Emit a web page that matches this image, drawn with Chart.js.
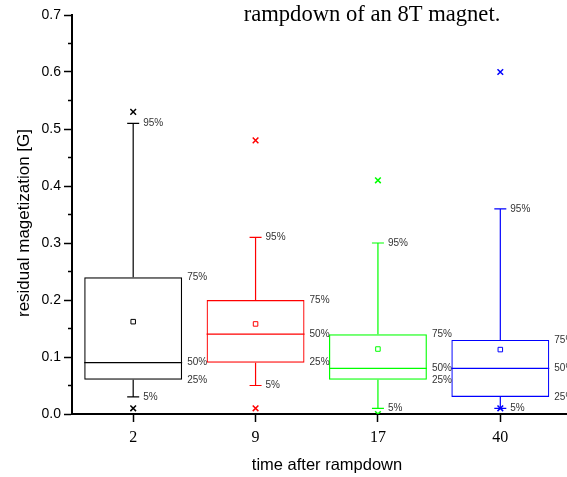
<!DOCTYPE html>
<html>
<head>
<meta charset="utf-8">
<script src="https://cdn.jsdelivr.net/npm/chart.js@4.4.1/dist/chart.umd.min.js"></script>
<style>
  html, body { margin: 0; padding: 0; background: #fff; }
  #wrap { width: 567px; height: 477px; }
</style>
</head>
<body>
<div id="wrap"><canvas id="boxChart" width="567" height="477"></canvas></div>
<script>
// values (residual magnetization in G)
const categories = ["2", "9", "17", "40"];
const p5 = [0.03, 0.05, 0.01, 0.01];
const q1 = [0.06, 0.09, 0.06, 0.03];
const median = [0.09, 0.14, 0.08, 0.08];
const q3 = [0.24, 0.20, 0.14, 0.13];
const p95 = [0.51, 0.31, 0.30, 0.36];
const mean = [0.162, 0.158, 0.114, 0.113];
const maxVals = [0.53, 0.48, 0.41, 0.60];
const minVals = [0.01, 0.01, 0.0, 0.01];
const colors = ["#000000", "#ff0000", "#00ff00", "#0000ff"];
const pctLabels = ["5%", "25%", "50%", "75%", "95%"];

const sans = "'Liberation Sans', Arial, sans-serif";
const serif = "'Liberation Serif', 'Times New Roman', serif";

// whiskers, medians, percent labels, minor ticks, axis titles and the caption line
const boxParts = {
  id: "boxParts",
  afterDatasetsDraw(chart) {
    const { ctx, scales: { y } } = chart;
    const boxes = chart.getDatasetMeta(0).data;
    ctx.save();
    boxes.forEach((bar, i) => {
      const cx = bar.x;
      const half = bar.width / 2;
      const yMed = y.getPixelForValue(median[i]);
      const yQ1 = y.getPixelForValue(q1[i]);
      const yQ3 = y.getPixelForValue(q3[i]);
      const y5 = y.getPixelForValue(p5[i]);
      const y95 = y.getPixelForValue(p95[i]);

      ctx.strokeStyle = colors[i];
      ctx.lineWidth = 1.2;
      ctx.beginPath();
      ctx.moveTo(cx - half, yMed);
      ctx.lineTo(cx + half, yMed);
      ctx.moveTo(cx, yQ3);
      ctx.lineTo(cx, y95);
      ctx.moveTo(cx - 6, y95);
      ctx.lineTo(cx + 6, y95);
      ctx.moveTo(cx, yQ1);
      ctx.lineTo(cx, y5);
      ctx.moveTo(cx - 6, y5);
      ctx.lineTo(cx + 6, y5);
      ctx.stroke();

      ctx.fillStyle = "#333";
      ctx.font = "10px " + sans;
      ctx.textAlign = "left";
      ctx.textBaseline = "middle";
      ctx.fillText(pctLabels[4], cx + 10, y95);
      ctx.fillText(pctLabels[3], cx + half + 5, yQ3);
      ctx.fillText(pctLabels[2], cx + half + 5, yMed);
      ctx.fillText(pctLabels[1], cx + half + 5, yQ1);
      ctx.fillText(pctLabels[0], cx + 10, y5);
    });
    ctx.restore();
  },
  afterDraw(chart) {
    const { ctx, chartArea, scales: { x, y } } = chart;
    ctx.save();
    ctx.strokeStyle = "#000";
    ctx.lineWidth = 1.5;
    ctx.beginPath();
    for (let v = 0.05; v < 0.7; v += 0.1) {
      const py = y.getPixelForValue(v);
      ctx.moveTo(chartArea.left - 4, py);
      ctx.lineTo(chartArea.left, py);
    }
    ctx.stroke();
    // x axis line runs to the edge
    ctx.lineWidth = 2;
    ctx.beginPath();
    ctx.moveTo(chartArea.right - 1, x.top);
    ctx.lineTo(chart.width, x.top);
    ctx.stroke();

    ctx.fillStyle = "#000";
    ctx.textAlign = "center";
    ctx.textBaseline = "middle";
    ctx.font = "16.5px " + sans;
    ctx.fillText("time after rampdown", 327, 465);
    ctx.save();
    ctx.translate(24, 223);
    ctx.rotate(-Math.PI / 2);
    ctx.font = "17px " + sans;
    ctx.fillText("residual magetization [G]", 0, 0);
    ctx.restore();

    ctx.font = "22.6px " + serif;
    ctx.fillText("rampdown of an 8T magnet.", 372, 15);
    ctx.restore();
  }
};

const ctx = document.getElementById("boxChart").getContext("2d");

new Chart(ctx, {
  type: "bar",
  data: {
    labels: categories,
    datasets: [
      {
        type: "bar",
        data: categories.map((c, i) => [q1[i], q3[i]]),
        borderColor: colors,
        backgroundColor: "rgba(0,0,0,0)",
        borderWidth: 1.2,
        borderSkipped: false,
        barPercentage: 0.8,
        categoryPercentage: 1,
        grouped: false,
        order: 3
      },
      {
        type: "line",
        data: mean,
        showLine: false,
        pointStyle: "rect",
        pointRadius: 3.2,
        pointBorderColor: colors,
        pointBackgroundColor: "rgba(0,0,0,0)",
        pointBorderWidth: 1,
        order: 2
      },
      {
        type: "line",
        data: maxVals,
        showLine: false,
        pointStyle: "crossRot",
        pointRadius: 4,
        pointBorderColor: colors,
        pointBorderWidth: 1.5,
        order: 1
      },
      {
        type: "line",
        data: minVals,
        showLine: false,
        pointStyle: "crossRot",
        pointRadius: 4,
        pointBorderColor: colors,
        pointBorderWidth: 1.5,
        clip: { left: 10, right: 10, top: 10, bottom: 0 },
        order: 1
      }
    ]
  },
  options: {
    responsive: false,
    animation: false,
    layout: { padding: { top: 15, right: 2, left: 0, bottom: 0 } },
    plugins: {
      legend: { display: false },
      tooltip: { enabled: false }
    },
    scales: {
      x: {
        offset: true,
        grid: {
          display: true,
          drawOnChartArea: false,
          offset: false,
          tickLength: 8,
          tickColor: "#000",
          tickWidth: 1.5
        },
        border: { display: true, color: "#000", width: 2 },
        ticks: {
          color: "#000",
          font: { family: serif, size: 16 },
          padding: 6,
          maxRotation: 0
        },
        afterFit: (s) => { s.height = 63; }
      },
      y: {
        min: 0,
        max: 0.7,
        ticks: {
          stepSize: 0.1,
          color: "#000",
          font: { family: sans, size: 14 },
          padding: 3,
          callback: (v) => v.toFixed(1)
        },
        grid: {
          display: true,
          drawOnChartArea: false,
          tickLength: 8,
          tickColor: "#000",
          tickWidth: 1.5
        },
        border: { display: true, color: "#000", width: 2 },
        afterFit: (s) => { s.width = 72; }
      }
    }
  },
  plugins: [boxParts]
});
</script>
</body>
</html>
